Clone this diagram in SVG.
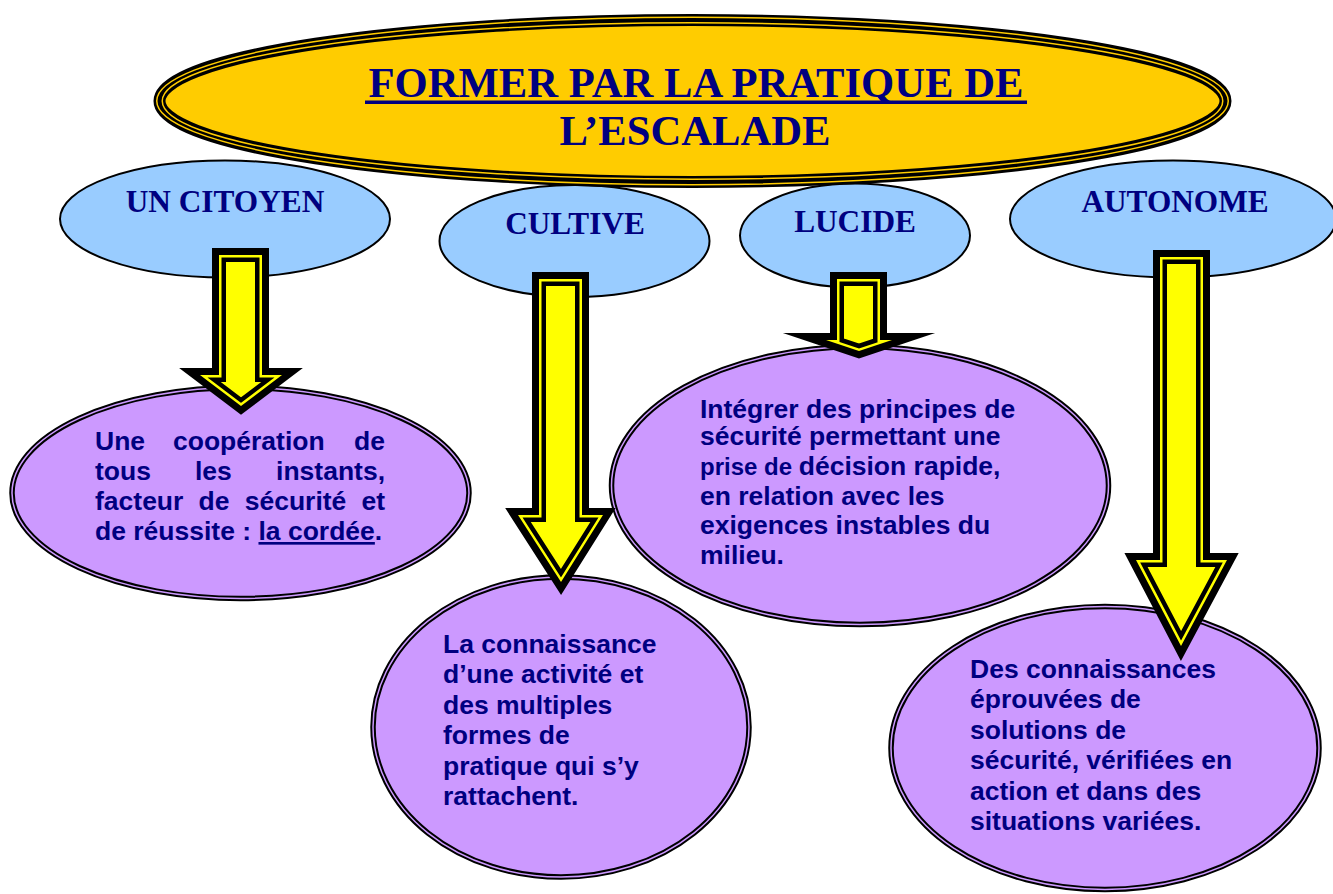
<svg xmlns="http://www.w3.org/2000/svg" xmlns:xlink="http://www.w3.org/1999/xlink" width="1333" height="894" viewBox="0 0 1333 894">
<style>
.t{font-family:"Liberation Serif","Times New Roman",serif;font-weight:bold;fill:#000080;text-anchor:middle}
.b{font-family:"Liberation Sans",Arial,sans-serif;font-weight:bold;fill:#000080;font-size:26.5px}
.blue{fill:#99CCFF;stroke:#000;stroke-width:2}
.pur{fill:#CC99FF;stroke:#000;stroke-width:5.5}
.pur2{fill:none;stroke:#CC99FF;stroke-width:1.5}
.ao{fill:#FFFF00;stroke:#000;stroke-width:14;stroke-miterlimit:20;stroke-linejoin:miter}
.ai1{fill:none;stroke:#000;stroke-width:8;stroke-miterlimit:20}
.ai2{fill:none;stroke:#FFFF00;stroke-width:5;stroke-miterlimit:20}
</style>
<defs>
<polygon id="a1p" points="219,255 262,255 262,375 282,375 241,406 200,375 219,375"/>
<polygon id="a2p" points="539,279 582,279 582,515 603,515 561,582 518,515 539,515"/>
<polygon id="a3p" points="837,279 880,279 880,340 892,340 859,351 826,340 837,340"/>
<polygon id="a4p" points="1160,257 1203,257 1203,560 1227,560 1181,646 1136,560 1160,560"/>
<clipPath id="c1"><polygon points="219,255 262,255 262,375 282,375 241,406 200,375 219,375"/></clipPath>
<clipPath id="c2"><polygon points="539,279 582,279 582,515 603,515 561,582 518,515 539,515"/></clipPath>
<clipPath id="c3"><polygon points="837,279 880,279 880,340 892,340 859,351 826,340 837,340"/></clipPath>
<clipPath id="c4"><polygon points="1160,257 1203,257 1203,560 1227,560 1181,646 1136,560 1160,560"/></clipPath>
</defs>
<rect width="1333" height="894" fill="#fff"/>

<g id="citoyen">
<ellipse class="blue" cx="225" cy="219" rx="165" ry="58.5"/>
<text class="t" x="225" y="212" font-size="31.3">UN CITOYEN</text>
</g>
<g id="cultive">
<ellipse class="blue" cx="574.5" cy="241" rx="135" ry="56"/>
<text class="t" x="575" y="234" font-size="31.3">CULTIVE</text>
</g>
<g id="lucide">
<ellipse class="blue" cx="855" cy="235.5" rx="115" ry="52"/>
<text class="t" x="855" y="232" font-size="31.3">LUCIDE</text>
</g>
<g id="autonome">
<ellipse class="blue" cx="1173" cy="219" rx="163" ry="58.5"/>
<text class="t" x="1175" y="212" font-size="31.3">AUTONOME</text>
</g>

<g id="title">
<ellipse cx="692.5" cy="101" rx="533" ry="81" fill="#FFCC00" stroke="#000" stroke-width="12"/>
<ellipse cx="692.5" cy="101" rx="535.75" ry="83.75" fill="none" stroke="#FFCC00" stroke-width="1.5"/>
<ellipse cx="692.5" cy="101" rx="530.25" ry="78.25" fill="none" stroke="#FFCC00" stroke-width="1.5"/>
<text class="t" x="696" y="97" font-size="42.67">FORMER PAR LA PRATIQUE DE</text>
<rect x="365" y="100.5" width="662" height="3.5" fill="#000080"/>
<text class="t" x="695" y="145" font-size="42.67">L’ESCALADE</text>
</g>

<g id="cordee">
<ellipse class="pur" cx="240.5" cy="493" rx="228.5" ry="105.5"/>
<ellipse class="pur2" cx="240.5" cy="493" rx="228.5" ry="105.5"/>
<text class="b" x="95" y="450">Une</text>
<text class="b" x="173" y="450">coopération</text>
<text class="b" x="385" y="450" text-anchor="end">de</text>
<text class="b" x="95" y="480">tous</text>
<text class="b" x="195" y="480">les</text>
<text class="b" x="385" y="480" text-anchor="end">instants,</text>
<text class="b" x="95" y="510">facteur</text>
<text class="b" x="198.5" y="510">de</text>
<text class="b" x="244.7" y="510">sécurité</text>
<text class="b" x="385" y="510" text-anchor="end">et</text>
<text class="b" x="95" y="540">de réussite : <tspan text-decoration="underline">la cordée</tspan>.</text>
</g>

<g id="connaissance">
<ellipse class="pur" cx="561" cy="727" rx="188" ry="150"/>
<ellipse class="pur2" cx="561" cy="727" rx="188" ry="150"/>
<text class="b" x="443" y="652.5">La connaissance</text>
<text class="b" x="443" y="683">d’une activité et</text>
<text class="b" x="443" y="713.5">des multiples</text>
<text class="b" x="443" y="744">formes de</text>
<text class="b" x="443" y="774.5">pratique qui s’y</text>
<text class="b" x="443" y="805">rattachent.</text>
</g>

<g id="integrer">
<ellipse class="pur" cx="860" cy="485.5" rx="248.5" ry="139"/>
<ellipse class="pur2" cx="860" cy="485.5" rx="248.5" ry="139"/>
<text class="b" x="700" y="418" font-size="24">Intégrer des principes de</text>
<text class="b" x="700" y="445" font-size="24">sécurité permettant une</text>
<text class="b" x="700" y="475"><tspan font-size="24">prise de </tspan>décision rapide,</text>
<text class="b" x="700" y="504.5">en relation avec les</text>
<text class="b" x="700" y="534">exigences instables du</text>
<text class="b" x="700" y="564">milieu.</text>
</g>

<g id="solutions">
<ellipse class="pur" cx="1105" cy="748" rx="214" ry="141.5"/>
<ellipse class="pur2" cx="1105" cy="748" rx="214" ry="141.5"/>
</g>

<g id="connectors">
<g><use xlink:href="#a1p" href="#a1p" class="ao"/><g clip-path="url(#c1)"><use xlink:href="#a1p" href="#a1p" class="ai1"/><use xlink:href="#a1p" href="#a1p" class="ai2"/></g></g>
<g><use xlink:href="#a2p" href="#a2p" class="ao"/><g clip-path="url(#c2)"><use xlink:href="#a2p" href="#a2p" class="ai1"/><use xlink:href="#a2p" href="#a2p" class="ai2"/></g></g>
<g><use xlink:href="#a3p" href="#a3p" class="ao"/><g clip-path="url(#c3)"><use xlink:href="#a3p" href="#a3p" class="ai1"/><use xlink:href="#a3p" href="#a3p" class="ai2"/></g></g>
<g><use xlink:href="#a4p" href="#a4p" class="ao"/><g clip-path="url(#c4)"><use xlink:href="#a4p" href="#a4p" class="ai1"/><use xlink:href="#a4p" href="#a4p" class="ai2"/></g></g>
</g>

<g id="solutions-text">
<text class="b" x="970" y="678">Des connaissances</text>
<text class="b" x="970" y="708.4">éprouvées de</text>
<text class="b" x="970" y="738.8">solutions de</text>
<text class="b" x="970" y="769.2">sécurité, vérifiées en</text>
<text class="b" x="970" y="799.6">action et dans des</text>
<text class="b" x="970" y="830">situations variées.</text>
</g>
</svg>
